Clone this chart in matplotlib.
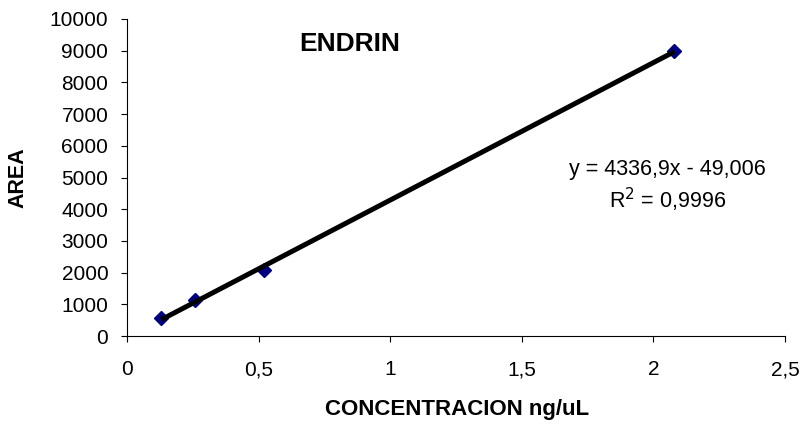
import numpy as np
import matplotlib
matplotlib.use('Agg')
from matplotlib import pyplot as plt

plt.rcParams['font.family'] = ['Liberation Sans', 'DejaVu Sans']

# calibration data
conc = [0.13, 0.26, 0.52, 2.08]
area = [570, 1140, 2085, 8975]

# trendline as printed on the chart
slope = 4336.9
intercept = -49.006
r2_text = '0,9996'

xticks = [0, 0.5, 1, 1.5, 2, 2.5]
xtick_labels = ['0', '0,5', '1', '1,5', '2', '2,5']
yticks = list(range(0, 10001, 1000))

fig = plt.figure(figsize=(8.06, 4.25), dpi=100)
ax = fig.add_axes([0.1576, 0.2094, 0.8164, 0.7459])

ax.plot(conc, area, 'D', color='#000080', markersize=7.5, zorder=2)
xl = np.array([min(conc), max(conc)])
ax.plot(xl, slope * xl + intercept, color='black', lw=3.6, zorder=3,
        solid_capstyle='butt')

ax.set_xlim(0, 2.5)
ax.set_ylim(0, 10000)
ax.set_xticks(xticks)
ax.set_xticklabels(xtick_labels)
ax.set_yticks(yticks)
ax.tick_params(axis='both', labelsize=15, direction='out', length=4.5, width=0.8, color='black')
ax.tick_params(axis='x', pad=13)
ax.tick_params(axis='y', pad=9)
ax.spines['top'].set_visible(False)
ax.spines['right'].set_visible(False)

ax.set_xlabel('CONCENTRACION ng/uL', fontsize=16, fontweight='bold')
ax.set_ylabel('AREA', fontsize=15.5, fontweight='bold')
ax.xaxis.set_label_coords(0.5015, -0.200)
ax.yaxis.set_label_coords(-0.150, 0.5)

ax.text(0.338, 0.922, 'ENDRIN', transform=ax.transAxes, fontsize=19, fontweight='bold',
        ha='center', va='center')
ax.text(0.821, 0.524, 'y = 4336,9x - 49,006', transform=ax.transAxes, fontsize=15.5,
        ha='center', va='center')
ax.text(0.822, 0.429, r'R$^2$ = ' + r2_text, transform=ax.transAxes, fontsize=15.5,
        ha='center', va='center')

plt.savefig('out.png', dpi=100)
